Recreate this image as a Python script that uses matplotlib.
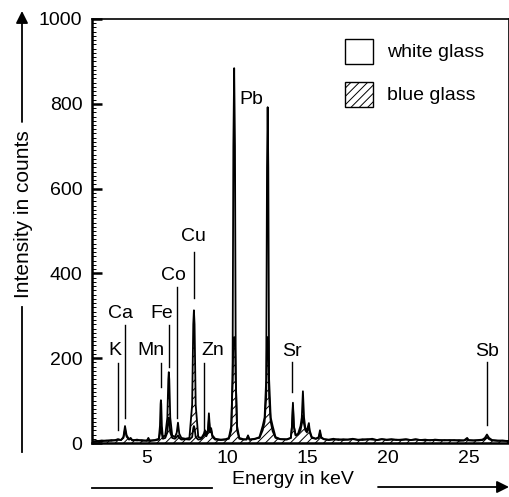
import matplotlib
matplotlib.use("Agg")
import matplotlib.pyplot as plt
from matplotlib.patches import Rectangle
from matplotlib.lines import Line2D

plt.rcParams['font.family'] = ['Liberation Sans', 'DejaVu Sans']
plt.rcParams['hatch.linewidth'] = 0.7

# ---------------- data ----------------
energy = [1.60, 1.90, 2.20, 2.50, 2.80, 3.05, 3.21, 3.40, 3.55, 3.65, 3.75, 3.90, 4.00, 4.10, 4.40, 4.70,
          5.00, 5.10, 5.20, 5.50, 5.75, 5.82, 5.86, 5.88, 5.90, 5.94, 6.00, 6.15, 6.28, 6.34, 6.37, 6.40, 6.46, 6.58, 6.75, 6.86, 6.94, 7.02, 7.15, 7.40,
          7.65, 7.82, 7.89, 7.93, 7.97, 8.04, 8.20, 8.40, 8.55, 8.62, 8.70, 8.80, 8.86, 8.93, 9.00, 9.08, 9.25, 9.60, 9.90,
          10.10, 10.25, 10.33, 10.38, 10.43, 10.48, 10.53, 10.61, 10.75, 11.00, 11.20, 11.29, 11.38, 11.70,
          12.00, 12.20, 12.32, 12.42, 12.47, 12.51, 12.55, 12.60, 12.70, 12.82, 13.00, 13.30, 13.70,
          13.95, 14.02, 14.08, 14.14, 14.25, 14.40, 14.55, 14.63, 14.70, 14.77, 14.85, 14.95, 15.02, 15.07, 15.12, 15.25, 15.50, 15.68, 15.76, 15.84, 16.00,
          16.3, 16.6, 16.9, 17.2, 17.5, 17.8, 18.1, 18.4, 18.7, 19.0, 19.3, 19.6, 19.9, 20.2, 20.5, 20.8, 21.1, 21.4, 21.7, 22.0, 22.3, 22.6, 22.9, 23.2, 23.5, 23.8, 24.1, 24.4, 24.7,
          24.90, 25.00, 25.30, 25.60, 25.85, 26.00, 26.13, 26.26, 26.45, 26.80, 27.10, 27.50]

white_glass = [3, 5, 4, 6, 5, 7, 9, 7, 14, 40, 18, 9, 12, 7, 6, 7,
               5, 12, 5, 6, 8, 22, 37, 40, 37, 22, 10, 12, 25, 55, 60, 55, 25, 12, 10, 14, 18, 12, 8, 9,
               8, 14, 35, 40, 35, 14, 8, 10, 18, 24, 16, 25, 55, 25, 30, 14, 8, 7, 8,
               10, 30, 150, 700, 884, 700, 150, 30, 10, 8, 9, 18, 8, 9,
               14, 40, 60, 150, 650, 792, 650, 150, 60, 40, 14, 9, 8,
               12, 40, 95, 40, 18, 22, 40, 60, 122, 60, 35, 30, 40, 47, 30, 14, 10, 14, 30, 14, 9,
               8, 10, 7, 9, 8, 10, 7, 9, 8, 10, 7, 9, 8, 9, 7, 8, 9, 7, 8, 7, 8, 6, 8, 7, 6, 7, 6, 7, 6,
               12, 7, 6, 7, 8, 12, 20, 12, 7, 6, 5, 5]

blue_glass = [3, 4, 6, 5, 7, 6, 8, 7, 12, 32, 15, 8, 10, 6, 8, 5,
              6, 5, 6, 7, 10, 40, 92, 101, 92, 40, 14, 18, 60, 150, 167, 150, 60, 18, 14, 24, 48, 22, 12, 10,
              12, 90, 280, 313, 280, 90, 14, 12, 22, 30, 22, 30, 70, 30, 35, 18, 10, 8, 9,
              12, 40, 150, 240, 250, 240, 150, 40, 12, 9, 8, 16, 8, 10,
              12, 30, 50, 110, 240, 250, 240, 110, 50, 28, 12, 9, 9,
              12, 38, 88, 38, 18, 20, 30, 45, 65, 45, 30, 25, 35, 40, 25, 12, 10, 12, 24, 12, 9,
              7, 8, 9, 7, 8, 9, 8, 7, 9, 8, 7, 9, 7, 8, 8, 7, 8, 7, 9, 7, 6, 7, 7, 6, 7, 6, 7, 5, 6,
              8, 6, 6, 6, 7, 9, 14, 9, 6, 5, 6, 4]

elements = ['K', 'Ca', 'Mn', 'Fe', 'Co', 'Cu', 'Zn', 'Pb', 'Sr', 'Sb']
label_x = [3.02, 3.40, 5.26, 5.94, 6.65, 7.87, 9.11, 11.52, 14.02, 26.13]
label_y = [219, 306, 219, 306, 396, 486, 219, 809, 215, 215]
line_x = [3.21, 3.65, 5.86, 6.36, 6.86, 7.91, 8.53, None, 14.04, 26.13]
line_top = [189, 278, 189, 278, 368, 450, 189, None, 191, 191]
line_bottom = [31, 59, 132, 179, 59, 342, 19, None, 120, 42]

series_names = ['white glass', 'blue glass']
x_ticks = [5, 10, 15, 20, 25]
y_ticks = [0, 200, 400, 600, 800, 1000]

# ---------------- figure ----------------
W, H = 510, 497
fig = plt.figure(figsize=(W / 100, H / 100), dpi=100)
ax = fig.add_axes([92 / W, 1 - 443 / H, 417 / W, 424 / H])
ax.set_xlim(1.6, 27.5)
ax.set_ylim(0, 1000)

FS = 14

# blue glass (hatched)
ax.fill_between(energy, blue_glass, 0, facecolor='none', edgecolor='black',
                hatch='////', linewidth=0, zorder=2)
ax.plot(energy, blue_glass, color='black', lw=1.3, zorder=3)
# white glass (outline)
ax.plot(energy, white_glass, color='black', lw=1.3, zorder=4)

# element labels
for name, tx, ty, lx, lt, lb in zip(elements, label_x, label_y, line_x, line_top, line_bottom):
    ax.text(tx, ty, name, ha='center', va='center', fontsize=FS, zorder=5)
    if lx is not None:
        ax.plot([lx, lx], [lb, lt], color='black', lw=1.0, zorder=5)

# ticks
ax.set_xticks(x_ticks)
ax.set_xticklabels([str(v) for v in x_ticks], fontsize=FS)
ax.tick_params(axis='x', length=0, pad=5)
ax.set_yticks(y_ticks)
ax.set_yticklabels([str(v) for v in y_ticks], fontsize=FS)
ax.set_yticks(range(0, 1001, 10), minor=True)
ax.tick_params(axis='y', which='major', direction='in', length=7, width=1.8, pad=7)
ax.tick_params(axis='y', which='minor', direction='in', length=3, width=0.7)
for s in ['left', 'bottom']:
    ax.spines[s].set_linewidth(1.8)
for s in ['top', 'right']:
    ax.spines[s].set_linewidth(1.2)

# legend (manual)
bx, bw, bh = (345 - 92) / 417, 28 / 417, 25 / 424
ax.add_patch(Rectangle((bx, (443 - 64) / 424), bw, bh, transform=ax.transAxes,
                       facecolor='white', edgecolor='black', lw=1.0, zorder=6))
ax.add_patch(Rectangle((bx, (443 - 107) / 424), bw, bh, transform=ax.transAxes,
                       facecolor='white', edgecolor='black', hatch='////', lw=1.0, zorder=6))
ax.text((387 - 92) / 417, (443 - 53) / 424, series_names[0], transform=ax.transAxes,
        ha='left', va='center', fontsize=FS, zorder=6)
ax.text((387 - 92) / 417, (443 - 96) / 424, series_names[1], transform=ax.transAxes,
        ha='left', va='center', fontsize=FS, zorder=6)

# axis labels with arrows
def fp(x, y):
    return (x, H - y)

fig.text(24 / W, 1 - 214 / H, 'Intensity in counts', rotation=90, ha='center', va='center',
         fontsize=15)
fig.add_artist(Line2D([22 / W, 22 / W], [1 - 307 / H, 1 - 452 / H], color='black', lw=1.3,
                      transform=fig.transFigure))
ax.annotate('', xy=fp(22, 11), xytext=fp(22, 122), xycoords='figure pixels',
            textcoords='figure pixels',
            arrowprops=dict(arrowstyle='-|>', lw=1.3, color='black', mutation_scale=18,
                            shrinkA=0, shrinkB=0), annotation_clip=False)

fig.text(293 / W, 1 - 480 / H, 'Energy in keV', ha='center', va='center', fontsize=14)
fig.add_artist(Line2D([92 / W, 212 / W], [1 - 488 / H, 1 - 488 / H], color='black', lw=1.3,
                      transform=fig.transFigure))
ax.annotate('', xy=fp(509, 487), xytext=fp(378, 487), xycoords='figure pixels',
            textcoords='figure pixels',
            arrowprops=dict(arrowstyle='-|>', lw=1.3, color='black', mutation_scale=18,
                            shrinkA=0, shrinkB=0), annotation_clip=False)

fig.savefig('out.png', dpi=100)
